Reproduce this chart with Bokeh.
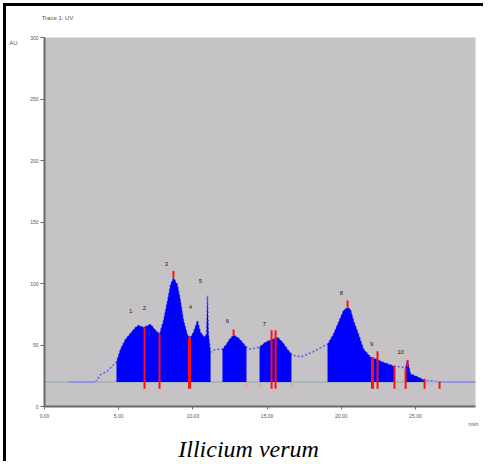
from bokeh.plotting import figure
from bokeh.models import Range1d, FixedTicker, LinearAxis
from bokeh.core.properties import value
from bokeh.embed import file_html
from bokeh.resources import INLINE

# ---- data (time in min, signal) ----
baseline_level = 20
trace_t = [0, 1.62, 3.44, 3.77, 4.25, 4.85,
           5.12, 5.46, 5.80, 6.13, 6.33, 6.67, 7.14, 7.48, 7.75, 8.02, 8.29, 8.49,
           8.69, 8.96, 9.16, 9.37, 9.64, 9.84, 10.04, 10.31, 10.51, 10.78, 10.92,
           10.98, 11.05, 11.19,
           11.39, 11.73, 11.99,
           12.26, 12.47, 12.74, 13.01, 13.28, 13.48, 13.61,
           13.88, 14.22, 14.49,
           14.89, 15.36, 15.70, 16.04, 16.37, 16.64,
           16.71, 17.25, 18.06, 18.80, 19.07,
           19.47, 19.81, 20.15, 20.42, 20.62, 20.82, 21.16, 21.50, 21.97, 22.30,
           22.78, 23.52, 23.58,
           24.33, 24.46, 24.66, 25.13, 25.54, 25.61,
           26.15, 26.48, 29.04]
trace_y = [20, 20, 20, 25.7, 29.0, 36.2,
           46.6, 54.7, 59.5, 64.3, 66.0, 64.3, 66.8, 61.9, 58.7, 70.0, 86.1, 98.9,
           104.6, 98.9, 86.1, 70.0, 57.9, 56.3, 60.3, 70.0, 60.3, 56.3, 58.7,
           90.1, 58.7, 44.2,
           45.8, 46.6, 46.6,
           50.7, 54.7, 57.9, 56.3, 53.1, 49.9, 48.3,
           46.6, 47.5, 48.3,
           52.3, 54.7, 56.3, 52.3, 46.6, 42.6,
           41.8, 40.2, 44.2, 49.1, 50.7,
           58.7, 68.4, 78.0, 80.4, 78.8, 70.0, 58.7, 46.6, 40.2, 38.6,
           36.2, 33.0, 33.0,
           31.5, 37.8, 26.5, 24.1, 21.7, 20.9,
           20.9, 20.1, 20]

fill_start = [4.85, 11.99, 14.49, 19.07, 24.33]
fill_end = [11.19, 13.61, 16.64, 23.58, 25.61]

cut_t = [6.74, 7.75, 15.30, 15.57, 22.44, 23.58, 24.33, 25.61, 26.62]
cut_top = [64.3, 58.7, 61.9, 61.9, 45.0, 33.0, 30.6, 22.5, 20.1]
strong_cut_t = [9.77, 22.10]
strong_cut_top = [56.3, 40.2]
faint_cut_t = [13.61, 14.49, 16.64]
cut_bottom = 14.5
apex_t = [8.69, 12.74, 20.42, 24.46]
apex_lo = [104.6, 57.9, 80.4, 32.2]
apex_hi = [110.2, 62.7, 86.1, 37.8]

peak_label_t = [5.80, 6.74, 8.22, 9.84, 10.51, 12.33, 14.82, 20.01, 22.04, 23.99]
peak_label_y = [78.0, 80.4, 115.8, 81.2, 102.1, 69.2, 66.8, 92.5, 50.7, 44.2]
peak_labels = ["1", "2", "3", "4", "5", "6", "7", "8", "9", "10"]

x_ticks = [0, 5, 10, 15, 20, 25]
x_tick_labels = ["0.00", "5.00", "10.00", "15.00", "20.00", "25.00"]
y_ticks = [0, 50, 100, 150, 200, 250, 300]
y_tick_labels = ["0", "50", "100", "150", "200", "250", "300"]

trace_name = "Trace 1: UV"
y_unit = "AU"
x_unit = "min"
caption = "Illicium verum"

# ---- figure ----
p = figure(width=480, height=458, output_backend="svg", toolbar_location=None,
           x_range=Range1d(0, 29.04), y_range=Range1d(0, 300),
           min_border_left=38, min_border_right=11, min_border_top=31,
           min_border_bottom=54)
p.styles = {"margin-left": "3px", "margin-top": "3px",
            "border-top": "3px solid black", "border-left": "3px solid black"}
p.background_fill_color = "#c5c3c5"
p.border_fill_color = "white"
p.outline_line_color = None
p.xgrid.visible = False
p.ygrid.visible = False

for ax, ticks, labels in ((p.xaxis[0], x_ticks, x_tick_labels),
                          (p.yaxis[0], y_ticks, y_tick_labels)):
    ax.ticker = FixedTicker(ticks=ticks)
    ax.major_label_overrides = {t: l for t, l in zip(ticks, labels)}
    ax.minor_tick_line_color = None
    ax.axis_line_color = "#6a6a6a"
    ax.axis_line_width = 2
    ax.major_tick_line_color = "#6a6a6a"
    ax.major_tick_in = 0
    ax.major_label_text_font = "Liberation Sans"
    ax.major_label_text_font_size = "5px"
    ax.major_label_text_color = "#555555"
p.yaxis.major_tick_out = 4
p.yaxis.major_label_standoff = 2
p.xaxis.major_tick_out = 3
p.xaxis.major_label_standoff = 4


def text_axis(side, pos, text, size, standoff, color="#555555", font="Liberation Sans",
              style="normal"):
    ax = LinearAxis(ticker=FixedTicker(ticks=[pos]),
                    major_label_overrides={pos: text},
                    axis_line_color=None, major_tick_line_color=None,
                    minor_tick_line_color=None, major_tick_out=0, major_tick_in=0,
                    major_label_standoff=standoff,
                    major_label_text_font=font, major_label_text_font_size=size,
                    major_label_text_font_style=style, major_label_text_color=color)
    p.add_layout(ax, side)


# texts around the frame (placed by the library's scales)
text_axis("above", 0.88, trace_name, "6px", 17)
text_axis("left", 295.2, y_unit, "6px", 10)
text_axis("below", 28.9, x_unit, "6px", 0)
text_axis("below", 13.75, caption, "24px", 6, color="black",
          font="Liberation Serif", style="italic")

# dotted trace between baseline sections
dot_t = [t for t in trace_t if 3.44 <= t <= 26.48]
dot_y = [y for t, y in zip(trace_t, trace_y) if 3.44 <= t <= 26.48]
p.line(dot_t, dot_y, line_color="#5c5cf0", line_width=1.5, line_dash="2 2")

# baseline
p.line([trace_t[0], trace_t[-1]], [baseline_level, baseline_level],
       line_color="#9fb3b3", line_width=1.5)
p.line([trace_t[1], trace_t[2]], [baseline_level, baseline_level],
       line_color="#8a8af0", line_width=1.5)
p.line([trace_t[-2], trace_t[-1]], [baseline_level, baseline_level],
       line_color="#8a8af0", line_width=1.5)

# filled peak regions
for a, b in zip(fill_start, fill_end):
    xs = [t for t in trace_t if a <= t <= b]
    ys = [y for t, y in zip(trace_t, trace_y) if a <= t <= b]
    p.varea(x=xs, y1=[baseline_level] * len(xs), y2=ys, fill_color="#0000ff")

# red cut lines
p.segment(x0=cut_t, y0=[cut_bottom] * len(cut_t), x1=cut_t, y1=cut_top,
          line_color="#ff1010", line_width=2)
p.segment(x0=strong_cut_t, y0=[cut_bottom] * len(strong_cut_t), x1=strong_cut_t,
          y1=strong_cut_top, line_color="#ff1010", line_width=3)
p.segment(x0=faint_cut_t, y0=[cut_bottom] * len(faint_cut_t), x1=faint_cut_t,
          y1=[baseline_level] * len(faint_cut_t), line_color="#f2a0a8", line_width=1.5)
p.segment(x0=apex_t, y0=apex_lo, x1=apex_t, y1=apex_hi,
          line_color="#ff1010", line_width=2)

# peak numbers
p.text(x=peak_label_t, y=peak_label_y, text=peak_labels,
       text_font=value("Liberation Sans"), text_font_size="6px",
       text_color="#222222", text_align="center", text_baseline="middle")

open("out.html", "w").write(file_html(p, INLINE))
